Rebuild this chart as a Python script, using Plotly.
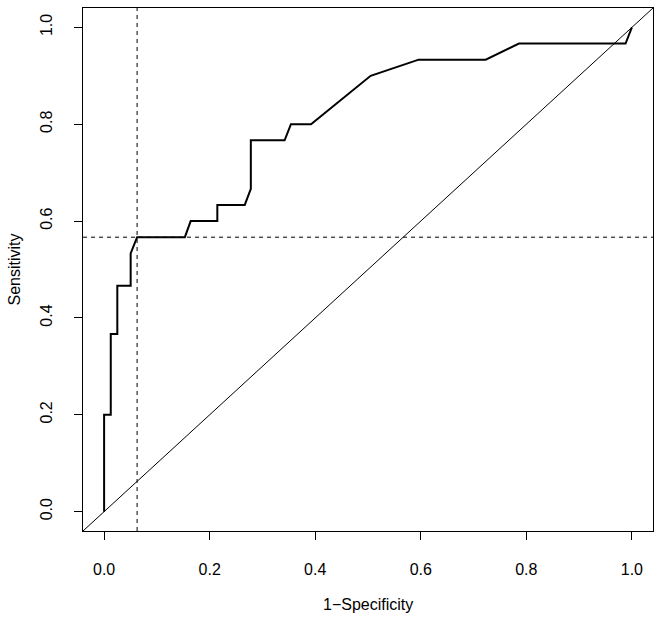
import plotly.graph_objects as go

# ROC curve points
fpr = [0.0, 0.0, 0.0126, 0.0126, 0.025, 0.025, 0.0503, 0.0503, 0.0625, 0.153,
       0.164, 0.2145, 0.2145, 0.2665, 0.278, 0.278, 0.342, 0.354, 0.392, 0.505,
       0.596, 0.723, 0.786, 0.988, 1.0]
sens = [0.0, 0.2, 0.2, 0.3667, 0.3667, 0.4667, 0.4667, 0.5333, 0.5667, 0.5667,
        0.6, 0.6, 0.6333, 0.6333, 0.6667, 0.7667, 0.7667, 0.8, 0.8, 0.9,
        0.9333, 0.9333, 0.9667, 0.9667, 1.0]
cut_fpr = 0.0625
cut_sens = 0.5667
tick_vals = [0.0, 0.2, 0.4, 0.6, 0.8, 1.0]
tick_text = ["0.0", "0.2", "0.4", "0.6", "0.8", "1.0"]
axis_range = [-0.04, 1.04]

FONT = "Liberation Sans, Arial, Helvetica, sans-serif"

fig = go.Figure()
fig.add_trace(go.Scatter(x=fpr, y=sens, mode="lines",
                         line=dict(color="black", width=2), showlegend=False,
                         hoverinfo="skip"))

# diagonal reference line across the whole plot
fig.add_shape(type="line", xref="x", yref="y",
              x0=axis_range[0], y0=axis_range[0], x1=axis_range[1], y1=axis_range[1],
              line=dict(color="black", width=1))
# cutoff dashed lines
fig.add_shape(type="line", xref="x", yref="paper", x0=cut_fpr, x1=cut_fpr, y0=0, y1=1,
              line=dict(color="black", width=1, dash="4px,4px"))
fig.add_shape(type="line", xref="paper", yref="y", x0=0, x1=1, y0=cut_sens, y1=cut_sens,
              line=dict(color="black", width=1, dash="4px,4px"))

axis_common = dict(range=axis_range, showgrid=False, zeroline=False,
                   showline=True, linecolor="black", linewidth=1, mirror=True,
                   ticks="outside", ticklen=8, tickcolor="black", tickwidth=1,
                   tickvals=tick_vals, ticktext=tick_text,
                   tickfont=dict(family=FONT, size=16, color="black"))

fig.update_xaxes(**axis_common, ticklabelstandoff=16)
fig.update_yaxes(**axis_common, tickangle=-90, ticklabelstandoff=16)

fig.add_annotation(text="1−Specificity", xref="paper", yref="paper", x=0.5, y=0,
                   yshift=-73, showarrow=False, yanchor="middle",
                   font=dict(family=FONT, size=16, color="black"))
fig.add_annotation(text="Sensitivity", xref="paper", yref="paper", x=0, y=0.5,
                   xshift=-69, showarrow=False, textangle=-90, xanchor="center",
                   font=dict(family=FONT, size=16, color="black"))

fig.update_layout(width=664, height=619, paper_bgcolor="white", plot_bgcolor="white",
                  margin=dict(l=83, r=11, t=8, b=88), showlegend=False)

fig.write_html("out.html",
               config={"displayModeBar": False},
               post_script="document.body.style.margin='0px';"
                           "document.body.style.overflow='hidden';")
